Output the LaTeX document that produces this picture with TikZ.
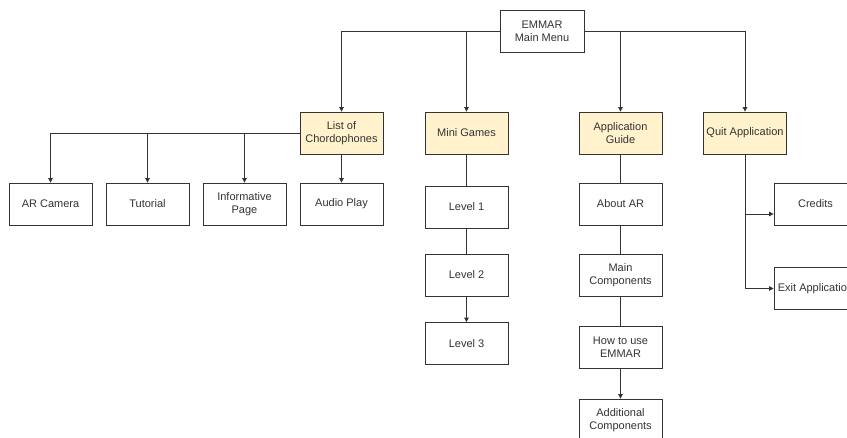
\documentclass[tikz,border=0pt]{standalone}
\usepackage{fontspec}
\setmainfont{Liberation Sans}
\usetikzlibrary{arrows.meta}
\definecolor{linec}{HTML}{333333}
\definecolor{textc}{HTML}{333333}
\definecolor{menufill}{HTML}{FFF2CC}
\tikzset{
  box/.style={draw=linec, line width=0.8pt, fill=white, minimum width=83pt, minimum height=42pt,
    inner sep=1pt, align=center, text=textc, font=\fontsize{11}{13}\selectfont},
  menubox/.style={box, fill=menufill},
  link/.style={draw=linec, line width=0.8pt},
  arrowlink/.style={link, -{Triangle[length=4.5pt,width=4.5pt]}}
}
\begin{document}
\begin{tikzpicture}[x=1pt, y=-1pt]
  \clip (0,0) rectangle (847,437);
  \fill[white] (0,0) rectangle (847,437);

  % top level
  \node[box, minimum width=84pt] (menu) at (542,31) {EMMAR\\Main Menu};

  % main sections
  \node[menubox] (list)  at (341.5,133) {List of\\Chordophones};
  \node[menubox] (mini)  at (466.5,133) {Mini Games};
  \node[menubox] (guide) at (620.5,133) {Application\\Guide};
  \node[menubox] (quit)  at (745,133)   {Quit Application};

  % chordophone pages
  \node[box] (arcam) at (50.5,204)  {AR Camera};
  \node[box] (tut)   at (147.5,204) {Tutorial};
  \node[box] (info)  at (244.5,204) {Informative\\Page};
  \node[box] (audio) at (341.5,204) {Audio Play};

  % mini game levels
  \node[box] (lv1) at (466.5,207)   {Level 1};
  \node[box] (lv2) at (466.5,275)   {Level 2};
  \node[box] (lv3) at (466.5,343.5) {Level 3};

  % guide pages
  \node[box] (about) at (620.5,204) {About AR};
  \node[box] (mainc) at (620.5,275) {Main\\Components};
  \node[box] (howto) at (620.5,347) {How to use\\EMMAR};
  \node[box] (addc)  at (620.5,420) {Additional\\Components};

  % quit options
  \node[box] (credits) at (815.5,204)   {Credits};
  \node[box] (exitapp) at (815.5,288.5) {Exit Application};

  % connectors from the main menu
  \draw[arrowlink] (menu.west) -| (list.north);
  \draw[arrowlink] (menu.west) -| (mini.north);
  \draw[arrowlink] (menu.east) -| (guide.north);
  \draw[arrowlink] (menu.east) -| (quit.north);

  % chordophone branch
  \draw[arrowlink] (list.west) -| (arcam.north);
  \draw[arrowlink] (list.west) -| (tut.north);
  \draw[arrowlink] (list.west) -| (info.north);
  \draw[arrowlink] (list.south) -- (audio.north);

  % mini game chain
  \draw[link] (mini.south) -- (lv1.north);
  \draw[link] (lv1.south) -- (lv2.north);
  \draw[arrowlink] (lv2.south) -- (lv3.north);

  % guide chain
  \draw[link] (guide.south) -- (about.north);
  \draw[link] (about.south) -- (mainc.north);
  \draw[link] (mainc.south) -- (howto.north);
  \draw[arrowlink] (howto.south) -- (addc.north);

  % quit branch
  \draw[arrowlink] (quit.south) |- ([yshift=-10pt]credits.west);
  \draw[arrowlink] (quit.south) |- (exitapp.west);
\end{tikzpicture}
\end{document}
